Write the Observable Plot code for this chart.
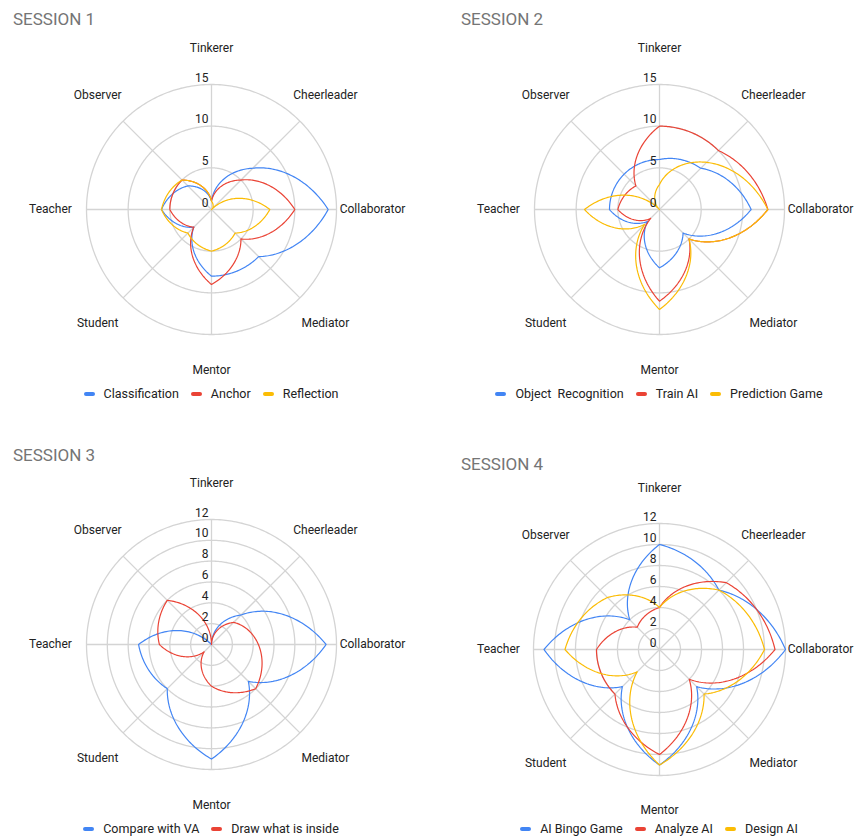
<!DOCTYPE html>
<html>
<head>
<meta charset="utf-8">
<script src="https://cdn.jsdelivr.net/npm/d3@7"></script>
<script src="https://cdn.jsdelivr.net/npm/@observablehq/plot@0.6"></script>
<style>
  html, body { margin: 0; padding: 0; background: #fff; overflow: hidden; }
  #root { position: relative; width: 855px; height: 838px; overflow: hidden; font-family: Roboto, "Noto Sans", sans-serif; }
  .title { position: absolute; font-size: 17px; line-height: 17px; color: #757575; white-space: nowrap; }
  .legend { position: absolute; width: 440px; display: flex; justify-content: center; align-items: center;
            font-size: 12.5px; line-height: 16px; color: #222; white-space: pre; }
  .legend .item { display: flex; align-items: center; margin: 0 6px; }
  .legend .sw { width: 11px; height: 4px; border-radius: 2px; margin-right: 9px; }
  .panel { position: absolute; width: 427px; height: 420px; }
  .panel svg { max-width: none !important; }
</style>
</head>
<body>
<div id="root"></div>
<script>
// ---------- data ----------
const categories = ["Tinkerer", "Cheerleader", "Collaborator", "Mediator", "Mentor", "Student", "Teacher", "Observer"];

const ticks15 = [0, 5, 10, 15];
const ticks12 = [0, 2, 4, 6, 8, 10, 12];

// Session 1
const s1Names = ["Classification", "Anchor", "Reflection"];
const s1Classification = [1, 7, 14, 8, 8, 3, 6, 4];
const s1Anchor         = [1, 5, 10, 5, 9, 3, 5, 5];
const s1Reflection     = [1, 0, 7, 4, 5, 4, 6, 5];

// Session 2
const s2Names = ["Object  Recognition", "Train AI", "Prediction Game"];
const s2ObjectRecognition = [6, 7, 11, 4, 7, 2, 6, 6];
const s2TrainAI           = [10, 10, 13, 5, 11, 1.5, 5, 4];
const s2PredictionGame    = [3, 8, 13, 5, 12, 2.5, 9, 0];

// Session 3
const s3Names = ["Compare with VA", "Draw what is inside"];
const s3CompareVA   = [0, 4, 11, 5, 11, 6, 7, 0];
const s3DrawInside  = [0, 3, 4.5, 6, 4, 1, 5, 6];

// Session 4
const s4Names = ["AI Bingo Game", "Analyze AI", "Design AI"];
const s4AIBingo   = [10, 8, 12, 5, 11, 5, 11, 4];
const s4AnalyzeAI = [4, 9, 11, 4, 10, 6, 6, 3];
const s4DesignAI  = [4, 8, 10, 6, 11, 3, 9, 7];

const palette = ["#4285F4", "#EA4335", "#FBBC04"];

// ---------- helpers ----------
const n = categories.length;
const angScreen = i => -Math.PI / 2 + i * 2 * Math.PI / n;   // screen angle (y down)
const ux = i => Math.cos(angScreen(i));
const uy = i => -Math.sin(angScreen(i));                      // y scale points up

// curve that interpolates linearly in polar coordinates (angle, radius) around the chart centre
function polarCurve(cx, cy) {
  return function (context) {
    let pts = [];
    return {
      areaStart() {}, areaEnd() {},
      lineStart() { pts = []; },
      point(x, y) { pts.push([+x, +y]); },
      lineEnd() {
        const m = pts.length;
        if (!m) return;
        const step = 2 * Math.PI / m;
        const rs = pts.map(([x, y]) => Math.hypot(x - cx, y - cy));
        const a = t => -Math.PI / 2 + t * step;
        const K = 48;
        context.moveTo(cx + rs[0] * Math.cos(a(0)), cy + rs[0] * Math.sin(a(0)));
        for (let i = 0; i < m; i++) {
          const r0 = rs[i], r1 = rs[(i + 1) % m];
          for (let k = 1; k <= K; k++) {
            const t = k / K, r = r0 + (r1 - r0) * t, an = a(i + t);
            context.lineTo(cx + r * Math.cos(an), cy + r * Math.sin(an));
          }
        }
        context.closePath();
      }
    };
  };
}

const root = document.getElementById("root");
const W = 427, H = 420, LCX = 213, LCY = 210;

function radar({title, titleX, titleBase, cx, cy, R, max, ticks, names, values, legendY}) {
  const rows = [];
  names.forEach((name, s) => values[s].forEach((v, i) => rows.push({series: name, i, v})));
  const rings = [];
  ticks.filter(t => t > 0).forEach(t => categories.forEach((c, i) => rings.push({t, i})));
  const labelR = 161 / R;
  const curve = polarCurve(LCX, LCY);

  const plot = Plot.plot({
    width: W, height: H,
    marginTop: 0, marginBottom: 0, marginLeft: 0, marginRight: 0,
    x: {domain: [-1, 1], range: [LCX - R, LCX + R], axis: null},
    y: {domain: [-1, 1], range: [LCY + R, LCY - R], axis: null},
    color: {domain: names, range: palette.slice(0, names.length)},
    style: {background: "transparent", overflow: "visible", maxWidth: "none", fontFamily: "Roboto, 'Noto Sans', sans-serif"},
    marks: [
      Plot.line(rings, {x: d => d.t / max * ux(d.i), y: d => d.t / max * uy(d.i), z: "t",
        stroke: "#d4d4d4", strokeWidth: 1.3, curve}),
      Plot.link(categories, {x1: () => 0, y1: () => 0, x2: (d, i) => ux(i), y2: (d, i) => uy(i),
        stroke: "#d4d4d4", strokeWidth: 1.3}),
      Plot.line(rows, {x: d => d.v / max * ux(d.i), y: d => d.v / max * uy(d.i), z: "series",
        stroke: "series", strokeWidth: 1.2, curve}),
      Plot.text(ticks, {x: () => 0, y: d => d / max, text: d => String(d), textAnchor: "end",
        lineAnchor: "bottom", dx: -3, dy: -3, fontSize: 12, fill: "#222"}),
      Plot.text(categories, {x: (d, i) => labelR * ux(i), y: (d, i) => labelR * uy(i), text: d => d,
        fontSize: 12, fill: "#222", lineAnchor: "middle"})
    ]
  });
  plot.style.maxWidth = "none";
  plot.setAttribute("width", W);
  plot.setAttribute("height", H);
  plot.style.width = W + "px";
  plot.style.height = H + "px";
  const wrap = document.createElement("div");
  wrap.className = "panel";
  wrap.style.left = (cx - LCX) + "px";
  wrap.style.top = (cy - LCY) + "px";
  wrap.appendChild(plot);
  root.appendChild(wrap);

  const t = document.createElement("div");
  t.className = "title";
  t.textContent = title;
  t.style.left = titleX + "px";
  t.style.top = (titleBase - 14.3) + "px";
  root.appendChild(t);

  const lg = document.createElement("div");
  lg.className = "legend";
  lg.style.left = (cx - 220) + "px";
  lg.style.top = (legendY - 8) + "px";
  names.forEach((name, s) => {
    const it = document.createElement("div");
    it.className = "item";
    const sw = document.createElement("span");
    sw.className = "sw";
    sw.style.background = palette[s];
    const tx = document.createElement("span");
    tx.textContent = name;
    it.appendChild(sw); it.appendChild(tx);
    lg.appendChild(it);
  });
  root.appendChild(lg);
}

radar({title: "SESSION 1", titleX: 13, titleBase: 25, cx: 211, cy: 209, R: 125, max: 15, ticks: ticks15,
  names: s1Names, values: [s1Classification, s1Anchor, s1Reflection], legendY: 394});
radar({title: "SESSION 2", titleX: 461, titleBase: 25, cx: 659, cy: 209, R: 125, max: 15, ticks: ticks15,
  names: s2Names, values: [s2ObjectRecognition, s2TrainAI, s2PredictionGame], legendY: 394});
radar({title: "SESSION 3", titleX: 13, titleBase: 461, cx: 211, cy: 644, R: 125, max: 12, ticks: ticks12,
  names: s3Names, values: [s3CompareVA, s3DrawInside], legendY: 829});
radar({title: "SESSION 4", titleX: 461, titleBase: 470, cx: 659, cy: 649, R: 126, max: 12, ticks: ticks12,
  names: s4Names, values: [s4AIBingo, s4AnalyzeAI, s4DesignAI], legendY: 829});
</script>
</body>
</html>
